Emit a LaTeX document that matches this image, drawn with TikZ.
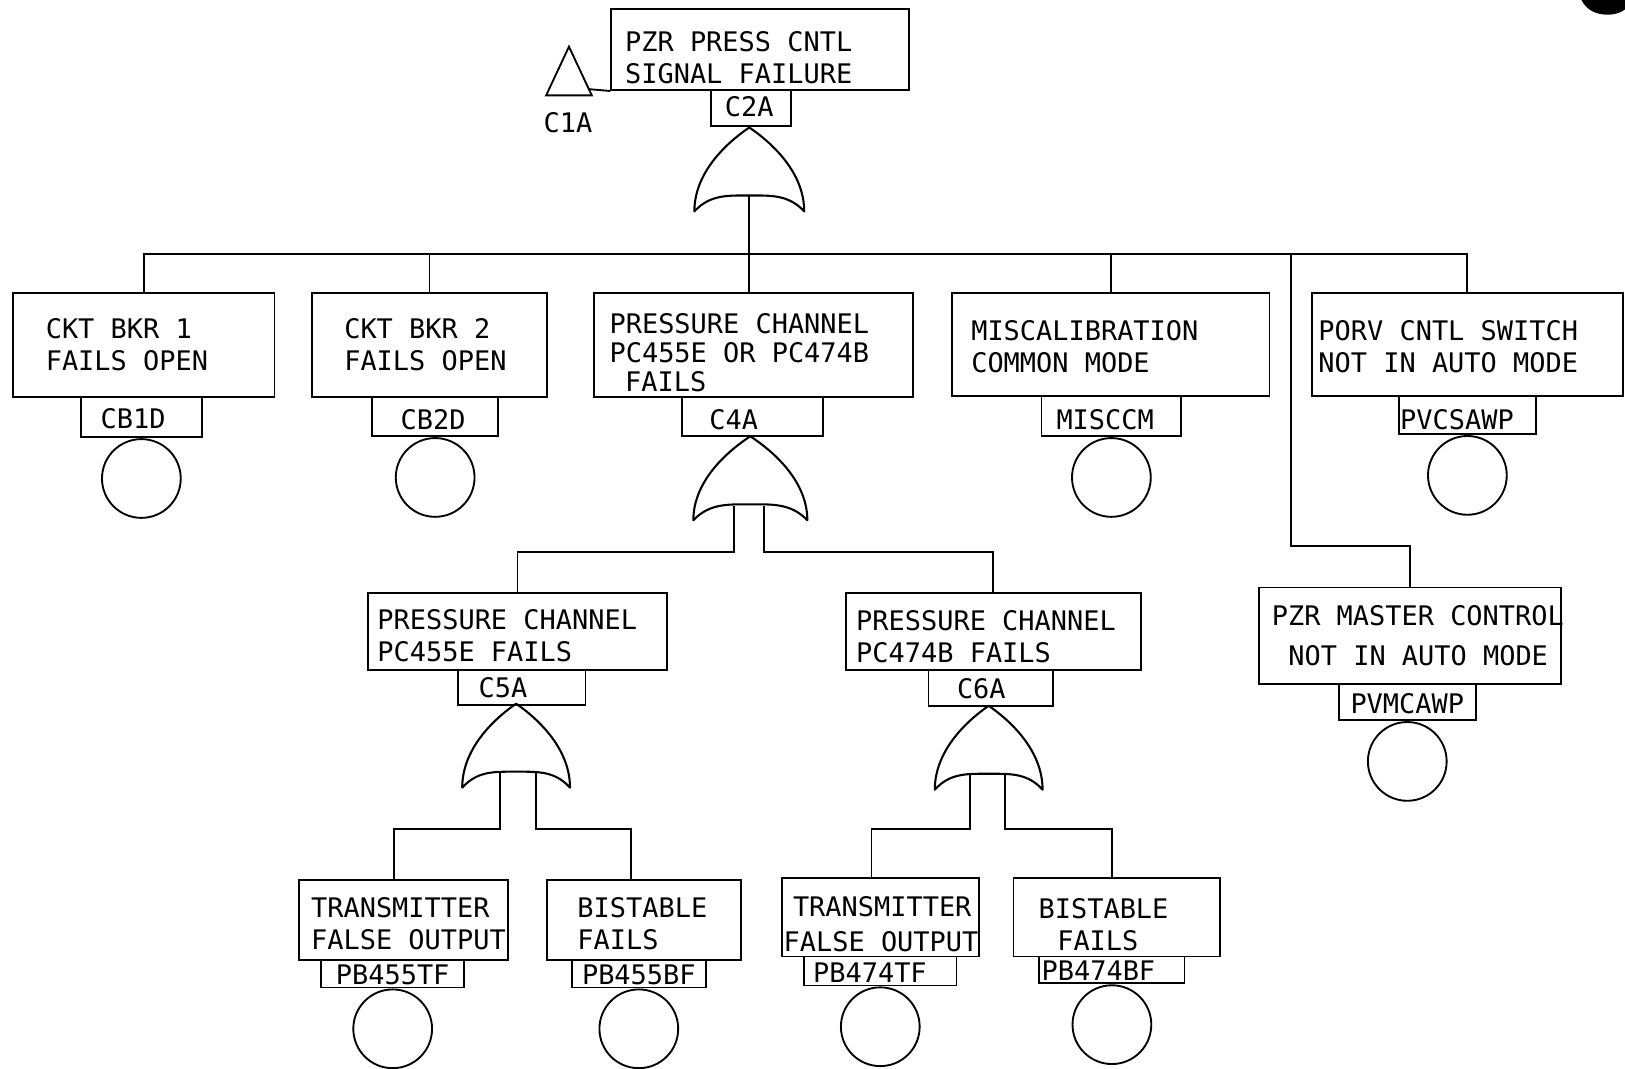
\documentclass[tikz,border=0pt]{standalone}
\usepackage{fontspec}
\newfontfamily\ftmono{DejaVu Sans Mono}
\usetikzlibrary{calc}
\tikzset{
  box/.style={draw, line width=1.8pt, inner sep=0pt, anchor=north west},
  txt/.style={font=\ftmono\fontsize{26}{31}\selectfont, align=left, inner sep=0pt},
  basic/.style={draw, circle, line width=1.8pt, minimum size=76pt, inner sep=0pt, anchor=north},
  conn/.style={line width=1.8pt},
  gate/.style={line width=2pt, line join=round},
}
% event box: name, x, y, w, h, pad, dy, text
\newcommand\evbox[8]{%
  \node[box, minimum width=#4, minimum height=#5] (#1) at (#2,#3) {};
  \node[txt, anchor=west] (#1t) at ($(#1.west)+(#6,#7)$) {#8};
}
% label box: name, x, y, w, h, text, dx, dy
\newcommand\labbox[8]{%
  \node[box, minimum width=#4, minimum height=#5] (#1) at (#2,#3) {};
  \node[txt] (#1t) at ($(#1.center)+(#7,#8)$) {#6};
}
% OR gate: name, apex x, apex y, half width
\newcommand\orgate[4]{%
  \begin{scope}[shift={(#2,#3)}, xscale=#4, yscale=81]
    \draw[gate] (0,0) .. controls (0.45,0.2) and (1,0.55) .. (1,1)
      .. controls (0.72,0.8) and (0.4,0.81) .. (0,0.81)
      .. controls (-0.4,0.81) and (-0.72,0.8) .. (-1,1)
      .. controls (-1,0.55) and (-0.45,0.2) .. (0,0) -- cycle;
    \coordinate (#1) at (0,0);
    \coordinate (#1b) at (0,0.81);
  \end{scope}}
\begin{document}
\begin{tikzpicture}[x=1pt, y=-1pt]
\useasboundingbox (0,0) rectangle (1568,1031);

% top event
\evbox{t}{589}{8}{287}{78}{14}{7.5}{PZR PRESS CNTL\\SIGNAL FAILURE}
\labbox{l2}{685}{86}{77}{35}{C2A}{-1.5}{-1.5}
\draw[conn] (549,45) -- (571,92) -- (527,92) -- cycle;
\coordinate (triR) at (568,86);
\draw[conn] (triR) -- (t.south west);
\node[txt] (c1a) at (548,118) {C1A};
\orgate{g2}{723}{123}{53}

% second level
\evbox{e1}{12}{282}{252}{100}{32}{0}{CKT BKR 1\\FAILS OPEN}
\labbox{l1}{77}{382}{117}{39}{CB1D}{-8}{1.5}
\node[basic] (b1) at (l1.south) {};

\evbox{e2}{300}{282}{227}{100}{32}{0}{CKT BKR 2\\FAILS OPEN}
\labbox{lc2}{358}{382}{122}{38}{CB2D}{-2}{3}
\node[basic] (b2) at (lc2.south) {};

\node[box, minimum width=308, minimum height=100] (e3) at (572,282) {};
\node[txt, anchor=west] (e3t) at ($(e3.west)+(16,7.5)$)
  {PRESSURE CHANNEL\\[-3pt]PC455E OR PC474B\\[-3pt]\hspace*{15pt}FAILS};
\labbox{l4}{657}{382}{136}{38}{C4A}{-18}{3}
\orgate{g4}{724}{421}{55}

\evbox{e4}{918}{282}{306}{99}{19}{2.5}{MISCALIBRATION\\COMMON MODE}
\labbox{lm}{1004}{381}{135}{39}{MISCCM}{-6}{3.5}
\node[basic] (b4) at (lm.south) {};

\evbox{e5}{1265}{282}{300}{99}{7}{2.5}{PORV CNTL SWITCH\\NOT IN AUTO MODE}
\labbox{lp}{1349}{381}{132}{37}{PVCSAWP}{-10}{4.5}
\node[basic] (b5) at (lp.south) {};

\evbox{e6}{1214}{566}{291}{93}{13}{0}{PZR MASTER CONTROL\\[7pt]\hspace*{16pt}NOT IN AUTO MODE}
\labbox{lq}{1291}{659}{132}{35}{PVMCAWP}{0}{1.5}
\node[basic] (b6) at (lq.south) {};

% third level
\evbox{pc5}{354}{571}{289}{75}{10}{4}{PRESSURE CHANNEL\\PC455E FAILS}
\labbox{l5}{441}{646}{123}{33}{C5A}{-18}{0.5}
\orgate{g5}{498}{679}{52}

\evbox{pc6}{815}{571}{285}{75}{11}{5}{PRESSURE CHANNEL\\PC474B FAILS}
\labbox{l6}{895}{646}{120}{34}{C6A}{-9}{1}
\orgate{g6}{954}{681}{52}

% fourth level
\evbox{tr1}{288}{848}{201}{77}{12}{3.5}{TRANSMITTER\\FALSE OUTPUT}
\labbox{lb1}{309}{925}{138}{27}{PB455TF}{0}{1.5}
\node[basic] (c1) at (lb1.south) {};

\evbox{bi1}{527}{848}{187}{77}{30}{3.5}{BISTABLE\\FAILS}
\labbox{lb2}{551}{925}{129}{27}{PB455BF}{0}{1.5}
\node[basic] (c2) at (lb2.south) {};

\evbox{tr2}{754}{846}{190}{76}{2}{7}{\hspace*{9pt}TRANSMITTER\\[3pt]FALSE OUTPUT}
\labbox{lb3}{775}{922}{147}{28}{PB474TF}{-10}{2}
\node[basic] (c3) at (lb3.south) {};

\evbox{bi2}{977}{846}{199}{76}{25}{7}{BISTABLE\\\hspace*{18pt}FAILS}
\labbox{lb4}{1002}{922}{140}{26}{PB474BF}{-13}{1}
\node[basic] (c4) at (lb4.south) {};

% connectors, top gate
\coordinate (bus) at (0,245);
\draw[conn] (e1.north) |- (e5.north |- bus) -- (e5.north);
\draw[conn] (e2.north |- bus) -- (e2.north);
\draw[conn] (e4.north |- bus) -- (e4.north);
\draw[conn] (g2b) -- (g2b |- e3.north);
\coordinate (bus6) at (1246,245);
\draw[conn] (bus6) -- (1246,527) -| (e6.north);

% connectors, gate C4A
\coordinate (g4l) at (708,488);
\coordinate (g4r) at (737,488);
\draw[conn] (g4l) |- ($(pc5.north)+(0,-38)$) -- (pc5.north);
\draw[conn] (g4r) |- ($(pc6.north)+(0,-38)$) -- (pc6.north);

% connectors, gate C5A
\coordinate (g5l) at (482.5,746);
\coordinate (g5r) at (517,746);
\draw[conn] (g5l) |- ($(tr1.north)+(-9.5,-48)$) -- ($(tr1.north)+(-9.5,0)$);
\draw[conn] (g5r) |- ($(bi1.north)+(-12.5,-48)$) -- ($(bi1.north)+(-12.5,0)$);

% connectors, gate C6A
\coordinate (g6l) at (936,748);
\coordinate (g6r) at (970,748);
\draw[conn] (g6l) |- ($(tr2.north)+(-9,-46)$) -- ($(tr2.north)+(-9,0)$);
\draw[conn] (g6r) |- ($(bi2.north)+(-4.5,-46)$) -- ($(bi2.north)+(-4.5,0)$);

% mark at top right corner
\fill (1526,0) .. controls (1534,17) and (1558,17) .. (1568,9) -- (1568,0) -- cycle;
\end{tikzpicture}
\end{document}
